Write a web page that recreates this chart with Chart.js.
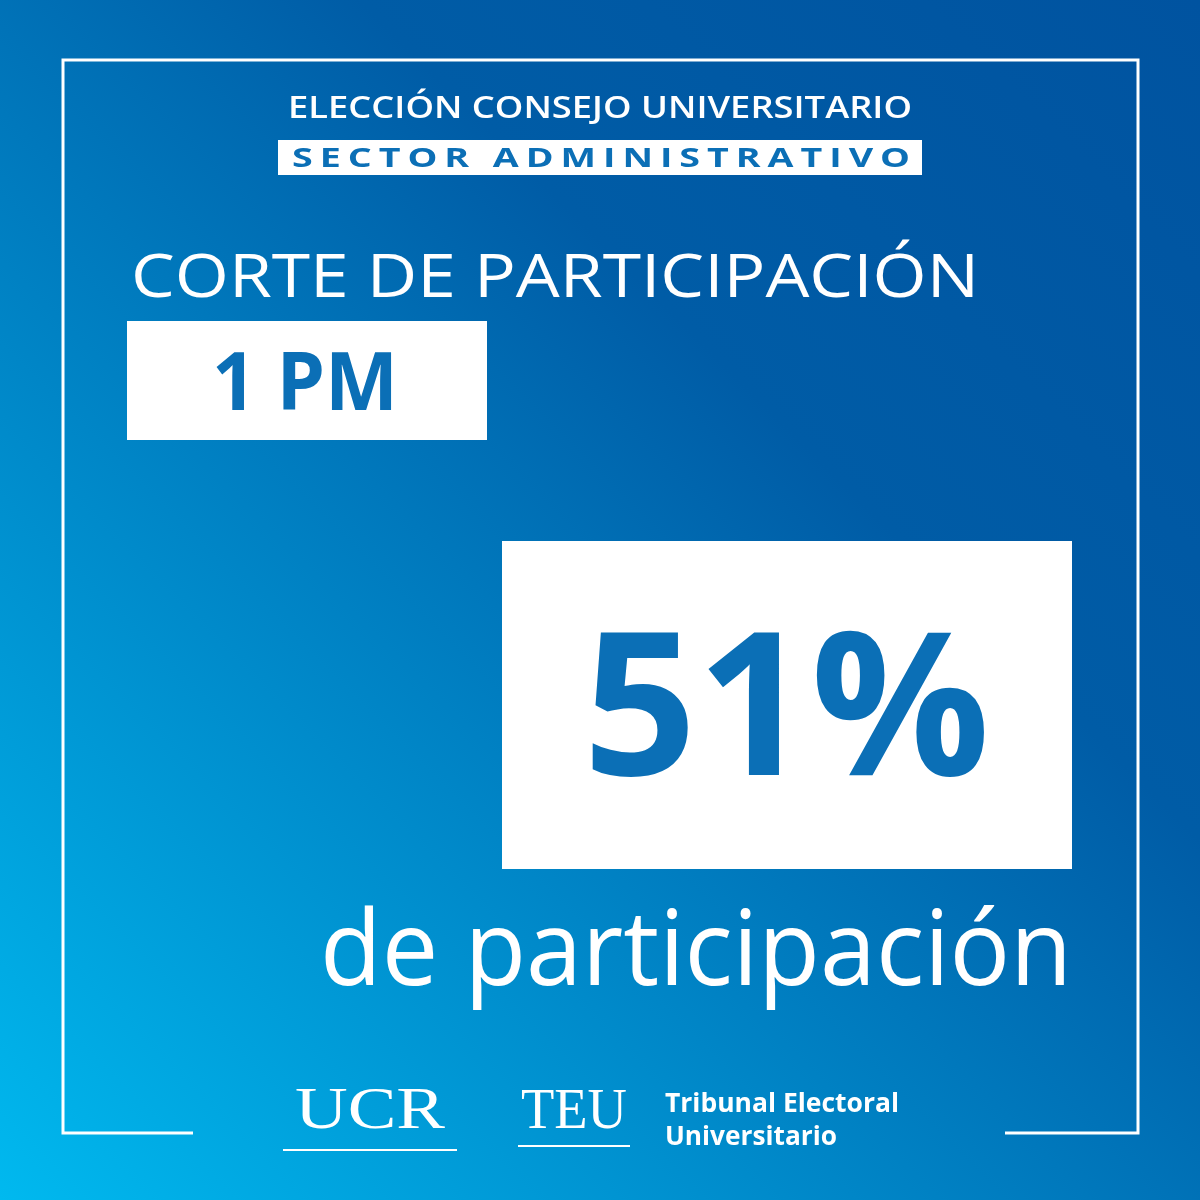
<!DOCTYPE html>
<html><head><meta charset="utf-8">
<script src="https://cdn.jsdelivr.net/npm/chart.js@4"></script>
<style>html,body{margin:0;padding:0;background:#0a72b8}canvas{display:block}</style>
</head><body>
<canvas id="c" width="1200" height="1200"></canvas>
<script>
const titleLines = ["ELECCIÓN CONSEJO UNIVERSITARIO", "SECTOR ADMINISTRATIVO"];
const cutLabel = ["CORTE DE PARTICIPACIÓN"];
const cutTime = ["1 PM"];
const participation = [51];
const caption = ["de participación"];
const footer = ["UCR", "TEU", "Tribunal Electoral", "Universitario"];

const BLUE = '#0b6fb6';
const F = '"Open Sans", "DejaVu Sans", sans-serif';

function fit(ctx, text, left, y, width) {
  const w = ctx.measureText(text).width;
  ctx.save();
  ctx.textAlign = 'left';
  ctx.translate(left, y);
  ctx.scale(width / w, 1);
  ctx.fillText(text, 0, 0);
  ctx.restore();
}

const poster = {
  id: 'poster',
  beforeDraw(chart) {
    const ctx = chart.ctx;
    ctx.save();
    const g = ctx.createLinearGradient(1200, 0, 0, 1200);
    g.addColorStop(0, '#0053a0');
    g.addColorStop(0.35, '#005ca6');
    g.addColorStop(1, '#00b9ef');
    ctx.fillStyle = g; ctx.fillRect(0, 0, 1200, 1200);
    ctx.strokeStyle = '#fff'; ctx.lineWidth = 3;
    ctx.beginPath();
    ctx.moveTo(193, 1133); ctx.lineTo(63, 1133); ctx.lineTo(63, 60); ctx.lineTo(1138, 60);
    ctx.lineTo(1138, 1133); ctx.lineTo(1005, 1133);
    ctx.stroke();
    ctx.fillStyle = '#fff'; ctx.textBaseline = 'alphabetic';
    ctx.font = '600 30px ' + F;
    fit(ctx, titleLines[0], 288, 118, 624);
    ctx.fillRect(278, 140, 644, 35);
    ctx.fillStyle = BLUE; ctx.font = '700 27px ' + F;
    ctx.letterSpacing = '5px';
    fit(ctx, titleLines[1], 292, 167, 625);
    ctx.letterSpacing = '0px';
    ctx.fillStyle = '#fff';
    ctx.font = '500 60px ' + F;
    fit(ctx, cutLabel[0], 131, 297, 848);
    ctx.fillRect(127, 321, 360, 119);
    ctx.fillStyle = BLUE;
    ctx.font = '700 80px ' + F;
    fit(ctx, cutTime[0], 212, 410, 186);
    ctx.fillStyle = '#fff';
    ctx.fillRect(502, 541, 570, 328);
    ctx.fillStyle = BLUE; ctx.font = '700 200px ' + F;
    fit(ctx, participation[0] + '%', 583, 775, 407);
    ctx.fillStyle = '#fff';
    ctx.font = '500 104px ' + F;
    fit(ctx, caption[0], 320, 985, 752);
    ctx.font = '60px "Liberation Serif", serif';
    fit(ctx, footer[0], 295, 1128, 150);
    ctx.fillRect(283, 1149, 174, 2);
    ctx.font = '56px "Liberation Serif", serif';
    fit(ctx, footer[1], 521, 1128, 106);
    ctx.fillRect(518, 1145, 112, 2);
    ctx.font = '700 27px ' + F;
    fit(ctx, footer[2], 665, 1112, 234);
    fit(ctx, footer[3], 665, 1145, 172);
    ctx.restore();
  }
};

new Chart(document.getElementById('c'), {
  type: 'bar',
  data: { labels: ['Participación'], datasets: [{ data: participation, backgroundColor: 'rgba(0,0,0,0)' }] },
  options: {
    responsive: false, devicePixelRatio: 1, animation: false,
    plugins: { legend: { display: false }, tooltip: { enabled: false } },
    scales: { x: { display: false }, y: { display: false, min: 0, max: 100 } }
  },
  plugins: [poster]
});
</script>
</body></html>
